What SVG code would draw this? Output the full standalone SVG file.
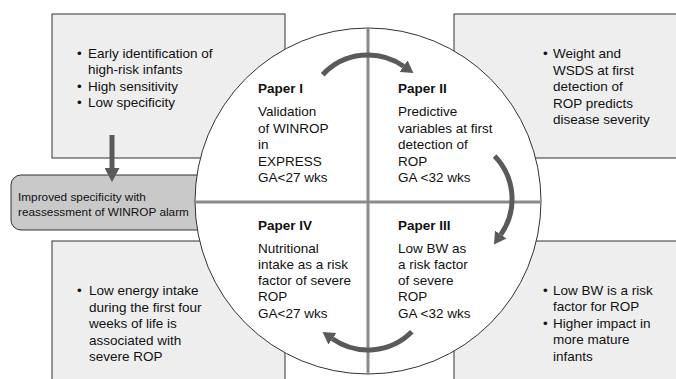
<svg xmlns="http://www.w3.org/2000/svg" width="676" height="379" viewBox="0 0 676 379">
<defs>
<style>
.box{fill:#eeeeee;stroke:#333333;stroke-width:1}
.alarm{fill:#c9c9c9;stroke:#333333;stroke-width:1}
.t{font-family:"Liberation Sans",Arial,sans-serif;font-size:13.5px;fill:#111111}
.b{font-weight:bold}
.s{font-family:"Liberation Sans",Arial,sans-serif;font-size:11.8px;fill:#111111}
.div{stroke:#8a8a8a;stroke-width:3;fill:none}
.arc{stroke:#5a5a5a;stroke-width:5;fill:none;marker-end:url(#ah)}
</style>
<marker id="ah" markerUnits="userSpaceOnUse" viewBox="0 0 12 14" markerWidth="12" markerHeight="14" refX="0" refY="7" orient="auto">
<path d="M0,0 L12,7 L0,14 z" fill="#5a5a5a"/>
</marker>
<marker id="ahd" markerUnits="userSpaceOnUse" viewBox="0 0 14 15" markerWidth="14" markerHeight="15" refX="0" refY="7.5" orient="auto">
<path d="M0,0 L14,7.5 L0,15 z" fill="#5a5a5a"/>
</marker>
</defs>
<rect width="676" height="379" fill="#ffffff"/>
<g id="box-top-left"><rect class="box" x="52" y="14" width="233" height="144"/></g>
<g id="box-top-right"><rect class="box" x="454" y="14" width="240" height="144"/></g>
<g id="box-bottom-left"><rect class="box" x="52" y="241" width="233" height="150"/></g>
<g id="box-bottom-right"><rect class="box" x="454" y="241" width="240" height="150"/></g>
<g id="alarm"><rect class="alarm" x="11" y="175" width="220" height="55" rx="10" ry="10"/></g>
<g id="circle">
<circle cx="368" cy="201" r="173" fill="#ffffff" stroke="#333333" stroke-width="1"/>
<line class="div" x1="368" y1="28" x2="368" y2="374"/>
<line class="div" x1="195" y1="202" x2="541" y2="202"/>
</g>
<g id="connectors">
<path class="arc" d="M322.7,74.7 A62,62 0 0 1 403.6,66.2"/>
<path class="arc" d="M494.6,155.9 A62,62 0 0 1 500.8,234.6"/>
<path class="arc" d="M411.8,331.8 A62,62 0 0 1 332.4,338.8"/>
<line x1="112" y1="135" x2="112" y2="168" stroke="#5a5a5a" stroke-width="5" marker-end="url(#ahd)"/>
</g>
<g id="text-top-left" class="t">
<text x="77" y="57.5">•</text><text x="88" y="57.5">Early identification of</text>
<text x="88" y="74">high-risk infants</text>
<text x="77" y="90.5">•</text><text x="88" y="90.5">High sensitivity</text>
<text x="77" y="107">•</text><text x="88" y="107">Low specificity</text>
</g>
<g id="text-top-right" class="t">
<text x="543" y="58">•</text><text x="553" y="58">Weight and</text>
<text x="553" y="74.5">WSDS at first</text>
<text x="553" y="91">detection of</text>
<text x="553" y="107.5">ROP predicts</text>
<text x="553" y="124">disease severity</text>
</g>
<g id="text-alarm" class="s">
<text x="18" y="201">Improved specificity with</text>
<text x="18" y="216">reassessment of WINROP alarm</text>
</g>
<g id="paper-1" class="t">
<text class="b" x="258" y="93">Paper I</text>
<text x="258" y="116">Validation</text>
<text x="258" y="132.5">of WINROP</text>
<text x="258" y="149">in</text>
<text x="258" y="165.5">EXPRESS</text>
<text x="258" y="182">GA&lt;27 wks</text>
</g>
<g id="paper-2" class="t">
<text class="b" x="398" y="93">Paper II</text>
<text x="398" y="116">Predictive</text>
<text x="398" y="132.5">variables at first</text>
<text x="398" y="149">detection of</text>
<text x="398" y="165.5">ROP</text>
<text x="398" y="182">GA &lt;32 wks</text>
</g>
<g id="paper-3" class="t">
<text class="b" x="398" y="230">Paper III</text>
<text x="398" y="252.5">Low BW as</text>
<text x="398" y="269">a risk factor</text>
<text x="398" y="285">of severe</text>
<text x="398" y="301">ROP</text>
<text x="398" y="317.5">GA &lt;32 wks</text>
</g>
<g id="paper-4" class="t">
<text class="b" x="258" y="230">Paper IV</text>
<text x="258" y="252.5">Nutritional</text>
<text x="258" y="269">intake as a risk</text>
<text x="258" y="285">factor of severe</text>
<text x="258" y="301">ROP</text>
<text x="258" y="317.5">GA&lt;27 wks</text>
</g>
<g id="text-bottom-left" class="t">
<text x="77" y="295">•</text><text x="89" y="295">Low energy intake</text>
<text x="89" y="311.5">during the first four</text>
<text x="89" y="328">weeks of life is</text>
<text x="89" y="344.5">associated with</text>
<text x="89" y="361">severe ROP</text>
</g>
<g id="text-bottom-right" class="t">
<text x="543" y="294.5">•</text><text x="553" y="294.5">Low BW is a risk</text>
<text x="553" y="311">factor for ROP</text>
<text x="543" y="327.5">•</text><text x="553" y="327.5">Higher impact in</text>
<text x="553" y="344">more mature</text>
<text x="553" y="360.5">infants</text>
</g>
</svg>
